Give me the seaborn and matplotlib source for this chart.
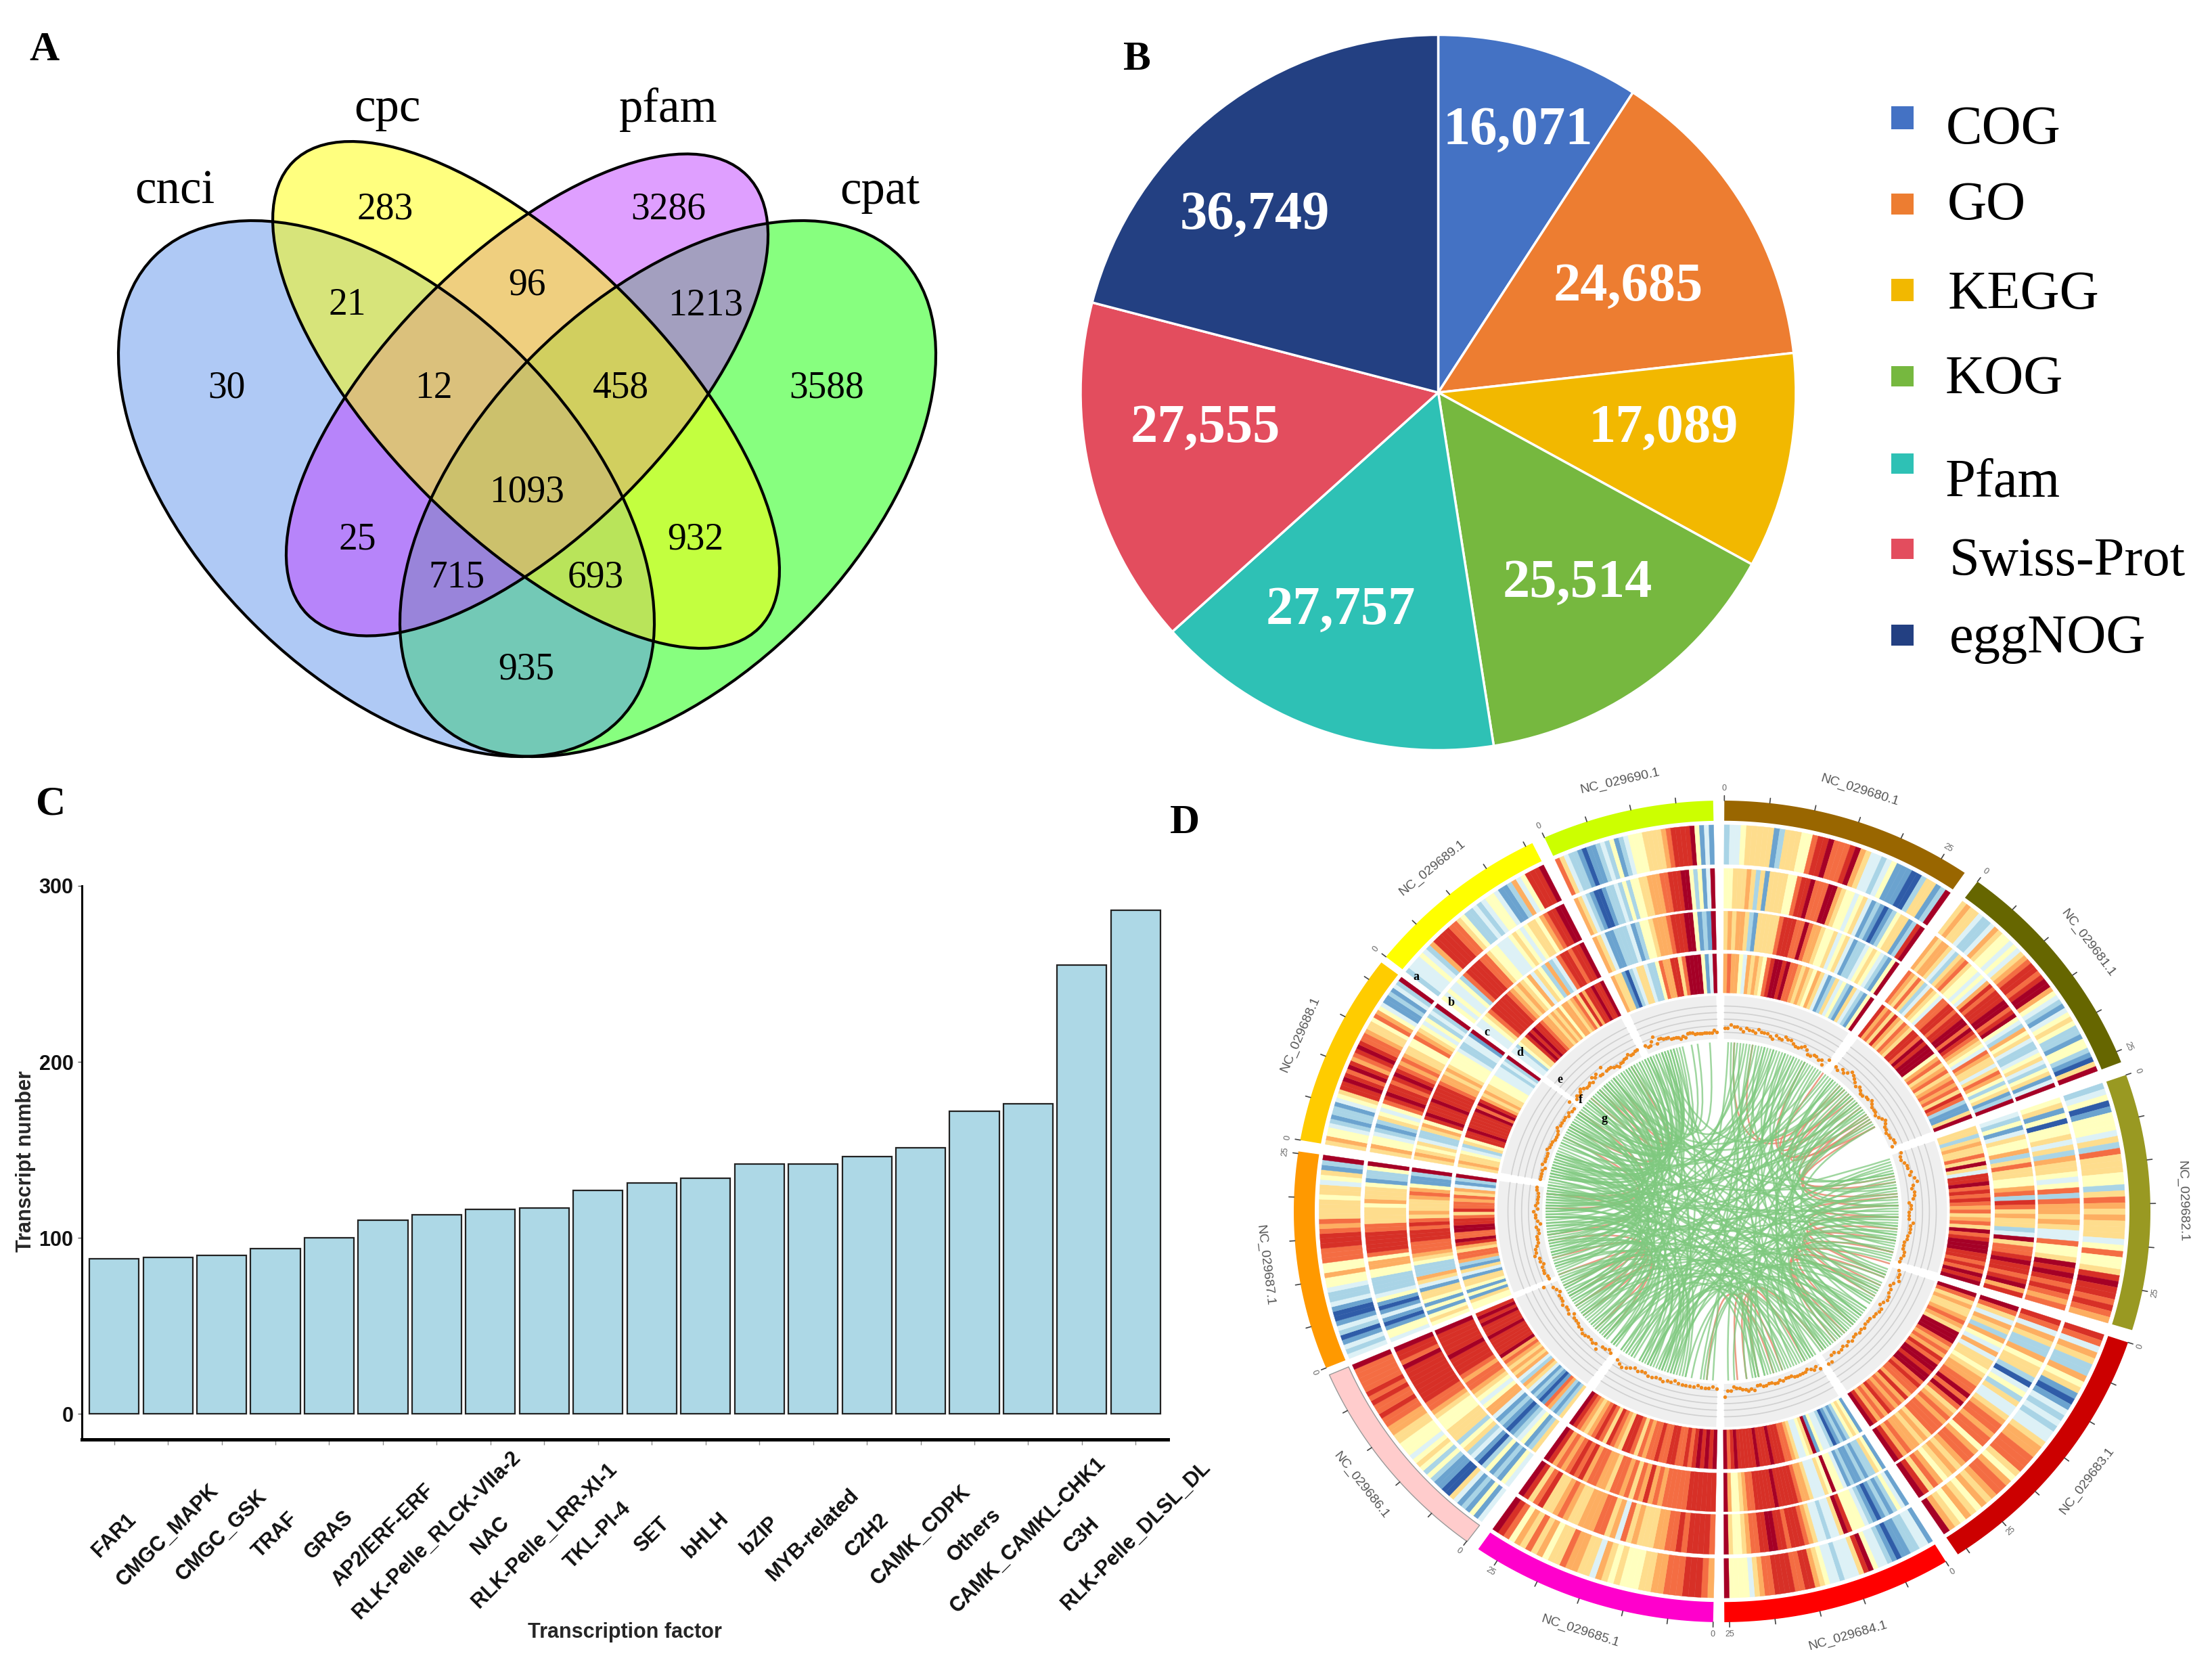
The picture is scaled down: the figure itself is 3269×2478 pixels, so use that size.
import numpy as np
import matplotlib
matplotlib.use('Agg')
import matplotlib.pyplot as plt
import seaborn as sns
from matplotlib.collections import PolyCollection
from matplotlib.patches import Ellipse, PathPatch, Rectangle
from matplotlib.path import Path

W, H = 3269, 2478
SERIF = 'Liberation Serif'
SANS = 'Liberation Sans'

# panel A
VENN_SETS = ['cnci', 'cpc', 'pfam', 'cpat']
VENN_COUNTS = ['283', '3286', '96', '21', '1213', '30', '12', '458', '3588',
               '1093', '25', '932', '715', '693', '935']

# panel B
PIE_NAMES = ['COG', 'GO', 'KEGG', 'KOG', 'Pfam', 'Swiss-Prot', 'eggNOG']
PIE_VALUES = [16071, 24685, 17089, 25514, 27757, 27555, 36749]

# panel C
TF_NAMES = ['FAR1', 'CMGC_MAPK', 'CMGC_GSK', 'TRAF', 'GRAS', 'AP2/ERF-ERF',
            'RLK-Pelle_RLCK-VIIa-2', 'NAC', 'RLK-Pelle_LRR-XI-1', 'TKL-PI-4',
            'SET', 'bHLH', 'bZIP', 'MYB-related', 'C2H2', 'CAMK_CDPK', 'Others',
            'CAMK_CAMKL-CHK1', 'C3H', 'RLK-Pelle_DLSL_DL']
TF_COUNTS = [88, 89, 90, 94, 100, 110, 113, 116, 117, 127, 131, 134, 142, 142,
             146, 151, 172, 176, 255, 286]

# panel D, sectors clockwise from the top
CHR_NAMES = ['NC_029680.1', 'NC_029681.1', 'NC_029682.1', 'NC_029683.1',
             'NC_029684.1', 'NC_029685.1', 'NC_029686.1', 'NC_029687.1',
             'NC_029688.1', 'NC_029689.1', 'NC_029690.1']
CHR_LENGTH_MB = [28.2, 26.3, 29.8, 31.2, 25.4, 27.6, 24.6, 25.4, 22.5, 21.0, 19.0]

# heat levels per sector and track (0 = dark blue ... 9 = dark red), outer track first
HEAT = [
    ['2334555551255544788977789653323411100255129',
     '4455565251555544788977799654434531210124551289',
     '5656652155555788877976654453453122345432149',
     '6766436565478998977656546531253421532149'],
    ['5655322365443435678878996432134542214421059',
     '6566532567544343687888997894326453223453245139',
     '7657523654377887889979876543765535764245129',
     '8675865765887989994675675676758721159'],
    ['2340144435275554425765655534744589887876',
     '4514044535265543472766565337445989878767',
     '3241354462575544672875655239577898878968',
     '5525655759538897878767567597899988787989'],
    ['8736522645101323233566777546776564564569',
     '8736522645520342533567767746776565467589',
     '9753652643635545667797975676777565667689',
     '9756556765999767687998997877686767867689'],
    ['1332211012334985333233456887788887765344449',
     '1342121012344489533233567888788998877654459',
     '1452212112134494533356678888898888877654469',
     '1454212102334195433567788898889888889879'],
    ['6788877766554445456355667554657564789',
     '7888878776655565736577666556765587589',
     '8888887777767686757677566776878767689',
     '9898987877887787767578856785787656789'],
    ['3141213500112424543444556677877878777779',
     '3412142013254255544456778888888897889',
     '5214321012136643456776788889888889',
     '5212671012135623656567698888898889898'],
    ['323102310013223446447778887675555455345129',
     '34410131014322224466478888877555546555412249',
     '45414145513562224567778887875655567641129',
     '4451414551351267756897799887587767563129'],
    ['564432122134588987986789877655476431121329',
     '564432125434789887898767655447654342329',
     '56545322564898889888876656544443223319',
     '565543254889888889798656554443332329'],
    ['2333432688887754223234431126348889',
     '4343342788887754433345434554678899',
     '3345788888765654635426237887889',
     '3324558989887665656466567586889889'],
    ['7532210112324123444555567888894131',
     '6532100122324244556667788899424139',
     '6531122231244566678889941219',
     '6551023553224766885799994139'],
]

# scatter track, distance from the inner edge per point
DOTS = [
    '5576654655465554354465543345422332315',
    '4354576543432233432221234322122331',
    '4334556578656653443335444332223322',
    '3445323344324433222323223232332255',
    '5343233333222323322332243433221336',
    '2122212222212232233223234543',
    '2122534334433222132232221237',
    '3344434465543332231233423222233',
    '2222132222322211123222212115',
    '3434543343545336333221223343344',
    '4335735544433332324443333333343',
]

# link ends in degrees, clockwise from the top
LINKS_GREEN = [
    (2, 205), (3, 148), (5, 255), (6, 120), (8, 300), (9, 170), (11, 232), (12, 95),
    (13, 285), (14, 156), (15, 215), (16, 330), (17, 110), (18, 262), (19, 195),
    (20, 140), (21, 310), (22, 88), (23, 243), (24, 178), (25, 125), (26, 290),
    (27, 222), (28, 77), (29, 163), (30, 270), (31, 200), (33, 135), (34, 320),
    (37, 250), (38, 100), (39, 187), (40, 295), (41, 145), (42, 228), (43, 82),
    (44, 340), (45, 210), (46, 118), (47, 275), (48, 168), (49, 92), (50, 258),
    (51, 305), (52, 198), (53, 132), (54, 238), (55, 150), (56, 282), (58, 218),
    (60, 112), (72, 265), (74, 196), (75, 235), (76, 142), (78, 288), (79, 176),
    (80, 208), (81, 318), (83, 128), (84, 252), (85, 160), (86, 300), (87, 224),
    (89, 138), (90, 273), (91, 190), (93, 245), (94, 152), (96, 325), (97, 212),
    (98, 280), (99, 122), (101, 240), (103, 172), (104, 296), (105, 202), (106, 260),
    (111, 315), (113, 226), (115, 285), (116, 185), (117, 247), (119, 268), (121, 205),
    (123, 335), (126, 233), (127, 278), (129, 192), (130, 255), (131, 302), (133, 218),
    (134, 271), (136, 242), (137, 312), (139, 200), (141, 263), (143, 292), (144, 228),
    (146, 248), (149, 275), (151, 215), (153, 322), (155, 238), (157, 283), (159, 205),
    (161, 258), (164, 298), (166, 222), (169, 268), (192, 310), (194, 278), (196, 330),
    (198, 252), (199, 290), (201, 345), (203, 265), (206, 318), (208, 240), (211, 300),
    (213, 272), (217, 328), (219, 286), (221, 256), (223, 340), (225, 306), (227, 276),
    (229, 316), (231, 296), (234, 332), (236, 266), (239, 308), (241, 284), (244, 342),
    (249, 322), (251, 294), (254, 336), (257, 304), (259, 326), (261, 281), (264, 314),
    (267, 344), (269, 334), (272, 299), (274, 320), (277, 311), (279, 341), (282, 337),
    (284, 329), (287, 324), (289, 343), (293, 333), (297, 317), (301, 338), (303, 323),
    (307, 346), (309, 331), (313, 339), (319, 350), (327, 352), (336, 356),
    (4, 128), (7, 272), (10, 183), (14, 241), (17, 306), (21, 152), (24, 287), (28, 211),
    (32, 98), (36, 262), (39, 144), (43, 316), (47, 204), (50, 131), (53, 276), (57, 166),
    (59, 244), (73, 213), (77, 322), (82, 169), (88, 256), (92, 201), (95, 283), (100, 149),
    (102, 338), (107, 219), (112, 274), (118, 197), (122, 308), (125, 236), (128, 294),
    (132, 186), (135, 251), (138, 329), (142, 224), (145, 285), (150, 207), (154, 269),
    (158, 313), (162, 232), (165, 279), (168, 344), (193, 259), (197, 301), (200, 335),
    (204, 246), (207, 288), (214, 268), (218, 311), (222, 281), (226, 342),
    (230, 263), (233, 299), (237, 325), (240, 271), (243, 318), (246, 291),
    (253, 277), (256, 332), (260, 304), (263, 327), (266, 289), (270, 340), (273, 305),
    (276, 334), (283, 315), (286, 336), (290, 321), (298, 328),
    (302, 343), (305, 319), (315, 341), (322, 347),
]
LINKS_SALMON = [
    (4, 48), (10, 44), (28, 60), (35, 50), (42, 56), (46, 58), (52, 80), (55, 88),
    (57, 84), (60, 78), (85, 92), (88, 104), (92, 112), (96, 120), (100, 116),
    (104, 132), (108, 140), (113, 138), (118, 136), (145, 172), (152, 168), (160, 175),
    (163, 185), (222, 260), (226, 236), (232, 244), (236, 248), (240, 254), (262, 276),
    (271, 296), (276, 306), (300, 316), (312, 322), (318, 329),
]

# styles and layout
VENN_FILLS = {'cnci': '#6195ED', 'cpc': '#FFFF00', 'pfam': '#C040FF', 'cpat': '#10FF00'}
VENN_SHAPES = {'cnci': ((571, 722), 485, 280, 45), 'cpc': ((777.5, 583.5), 487, 208, 45),
               'pfam': ((779, 583.5), 459, 207, -45), 'cpat': ((987, 722), 485, 280, -45)}
VENN_FILL_ORDER = ['cpat', 'cnci', 'pfam', 'cpc']
PIE_COLORS = ['#4472C4', '#ED7D31', '#F2B800', '#76B83F', '#2EC1B5', '#E34D5E', '#234082']
RING_COLORS = ['#996600', '#666600', '#999922', '#CC0000', '#FF0000', '#FF00CC',
               '#FFCCCC', '#FF9900', '#FFCC00', '#FFFF00', '#CCFF00']
HEAT_COLORS = sns.color_palette(['#2F5CA8', '#6BA3CF', '#A9D4E6', '#DDF1F6', '#FFFFBF',
                                 '#FEDD8D', '#FDAE61', '#F46D43', '#D73027', '#A50026'])
SECTOR_SPANS = [(0.3, 34.5), (36.6, 68.7), (70.6, 106.8), (108.6, 146.6), (148.5, 179.7),
                (181.2, 214.7), (216.6, 246.6), (247.6, 278.4), (280.0, 307.3),
                (308.3, 333.7), (335.5, 358.8)]
TRACK_RADII = [(0.845, 0.941), (0.738, 0.835), (0.637, 0.731), (0.532, 0.627)]
DEG_PER_MB = 1.22
CX, CY, RX, RY = 2545, 1790, 633, 607

sns.set_theme(style='white')
plt.rcParams['font.family'] = [SANS, 'DejaVu Sans']


def to_xy(theta, r):
    t = np.radians(theta)
    return CX + RX * r * np.sin(t), CY - RY * r * np.cos(t)


def arc_poly(t0, t1, r0, r1, n=6):
    ts = np.linspace(t0, t1, n)
    x0, y0 = to_xy(ts, r1)
    x1, y1 = to_xy(ts[::-1], r0)
    return np.column_stack([np.r_[x0, x1], np.r_[y0, y1]])


def px_axes(fig, left, top, right, bottom):
    return fig.add_axes([left / W, 1 - bottom / H, (right - left) / W, (bottom - top) / H])


fig = plt.figure(figsize=(W / 100, H / 100), dpi=100, facecolor='white')

# C: bar chart
ax_bar = px_axes(fig, 121, 1309, 1726, 2127)
sns.barplot(x=TF_NAMES, y=TF_COUNTS, color='#ADD8E6', saturation=1, width=0.92,
            edgecolor='#222222', linewidth=1.6, ax=ax_bar)
ax_bar.set_xlim(-0.6, 19.6)
ax_bar.set_ylim(-14.6, 300)
ax_bar.set_yticks([0, 100, 200, 300])
ax_bar.set_xticks(range(len(TF_NAMES)))
ax_bar.set_xticklabels(TF_NAMES, rotation=45, ha='center', va='center', fontsize=22,
                       fontweight='bold', family=SANS, color='#111111')
ax_bar.tick_params(axis='x', length=6, width=1, color='#888888', pad=96, bottom=True)
ax_bar.tick_params(axis='y', length=4, width=1, color='#555555', pad=5, left=True)
for lab in ax_bar.get_yticklabels():
    lab.set_fontsize(22)
    lab.set_fontweight('bold')
    lab.set_color('#111111')
for side in ['top', 'right']:
    ax_bar.spines[side].set_visible(False)
ax_bar.spines['left'].set_linewidth(2.2)
ax_bar.spines['bottom'].set_linewidth(3.6)
ax_bar.spines['left'].set_color('black')
ax_bar.spines['bottom'].set_color('black')
ax_bar.set_xlabel('Transcription factor', fontsize=22, fontweight='bold', va='center')
ax_bar.set_ylabel('Transcript number', fontsize=22, fontweight='bold', va='center')
ax_bar.xaxis.set_label_coords(0.5, -0.348)
ax_bar.yaxis.set_label_coords(-0.052, 0.502)

# B: pie
ax_pie = px_axes(fig, 1597, 51, 2654, 1109)
ax_pie.pie(PIE_VALUES, colors=PIE_COLORS, startangle=90, counterclock=False, radius=1,
           wedgeprops={'edgecolor': 'white', 'linewidth': 2.5})
ax_pie.set_xlim(-1, 1)
ax_pie.set_ylim(-1, 1)

# everything else is placed in picture pixels
ov = fig.add_axes([0, 0, 1, 1], facecolor='none')
ov.set_xlim(0, W)
ov.set_ylim(H, 0)
ov.axis('off')

# pie labels and legend
PIE_LABEL_XY = [(2243, 193), (2406, 424), (2458, 633), (2331, 862), (1981, 902),
                (1781, 633), (1854, 318)]
for val, (x, y) in zip(PIE_VALUES, PIE_LABEL_XY):
    ov.text(x, y, f'{val:,}', color='white', fontsize=58, fontweight='bold', family=SERIF,
            ha='center', va='center')
LEGEND_BOX_Y = [(157, 191), (286, 317), (412, 445), (541, 571), (670, 700), (796, 826), (923, 954)]
LEGEND_TEXT_XY = [(2876, 212), (2878, 324), (2879, 456), (2875, 581), (2875, 734), (2881, 850), (2881, 964)]
for name, col, (y0, y1), (x, y) in zip(PIE_NAMES, PIE_COLORS, LEGEND_BOX_Y, LEGEND_TEXT_XY):
    ov.add_patch(Rectangle((2795, y0), 33, y1 - y0, facecolor=col, edgecolor='none'))
    ov.text(x, y, name, fontsize=58, family=SERIF, color='black', ha='left', va='baseline')

# A: venn, filled in this order so the overlaps mix the way they do in the figure
for name in VENN_FILL_ORDER:
    c, a, b, ang = VENN_SHAPES[name]
    ov.add_patch(Ellipse(c, 2 * a, 2 * b, angle=ang, facecolor=VENN_FILLS[name],
                         edgecolor='none', alpha=0.5))
for name in VENN_SETS:
    c, a, b, ang = VENN_SHAPES[name]
    ov.add_patch(Ellipse(c, 2 * a, 2 * b, angle=ang, facecolor='none', edgecolor='black', linewidth=3))
VENN_NAME_XY = [(258, 283), (572, 162), (988, 162), (1300, 283)]
for name, (x, y) in zip(VENN_SETS, VENN_NAME_XY):
    ov.text(x, y, name, fontsize=51, family=SERIF, color='black', ha='center', va='center')
VENN_COUNT_XY = [(569, 310), (988, 310), (779, 422), (513, 451), (1043, 451), (335, 574),
                 (641, 574), (917, 574), (1222, 574), (779, 728), (528, 798), (1028, 798),
                 (675, 853), (880, 853), (778, 990)]
for num, (x, y) in zip(VENN_COUNTS, VENN_COUNT_XY):
    ov.text(x, y, num, fontsize=40, family=SERIF, color='black', ha='center', va='center')

# panel letters
PANEL_XY = {'A': (65, 74), 'B': (1680, 88), 'C': (75, 1188), 'D': (1751, 1216)}
for letter, (x, y) in PANEL_XY.items():
    ov.text(x, y, letter, fontsize=44, fontweight='bold', family=SERIF, color='black',
            ha='center', va='center')

# D: outer ring, ticks and names
for i, (t0, t1) in enumerate(SECTOR_SPANS):
    edge = '#999999' if RING_COLORS[i] == '#FFCCCC' else 'none'
    ov.add_collection(PolyCollection([arc_poly(t0, t1, 0.951, 1.0, 40)], facecolors=RING_COLORS[i],
                                     edgecolors=edge, linewidths=1))
    for mb in np.arange(0, CHR_LENGTH_MB[i], 5):
        th = t0 + mb * DEG_PER_MB
        xa, ya = to_xy(th, 1.0)
        xb, yb = to_xy(th, 1.012)
        ov.plot([xa, xb], [ya, yb], color='#444444', lw=1.2)
        if mb in (0, 25):
            x, y = to_xy(th, 1.03)
            ov.text(x, y, f'{int(mb)}', fontsize=9, color='#666666', ha='center', va='center',
                    rotation=-th if not 90 < th < 270 else 180 - th)
    mid = (t0 + t1) / 2
    x, y = to_xy(mid, 1.075)
    rot = 180 - mid if 90 < mid < 270 else -mid
    ov.text(x, y, CHR_NAMES[i], fontsize=14, color='#555555', ha='center', va='center', rotation=rot)

# D: heat tracks
for i, (t0, t1) in enumerate(SECTOR_SPANS):
    for digits, (r0, r1) in zip(HEAT[i], TRACK_RADII):
        levels = [int(d) for d in digits]
        edges = np.linspace(t0, t1, len(levels) + 1)
        polys = [arc_poly(edges[j], edges[j + 1], r0, r1, 3) for j in range(len(levels))]
        cols = [HEAT_COLORS[lv] for lv in levels]
        ov.add_collection(PolyCollection(polys, facecolors=cols, edgecolors=cols, linewidths=0.3))

# D: grey band of the scatter track
for t0, t1 in SECTOR_SPANS:
    ov.add_collection(PolyCollection([arc_poly(t0 + 0.3, t1 - 0.3, 0.42, 0.525, 40)],
                                     facecolors='#EFEFEF', edgecolors='none'))
    for r in [0.436, 0.452, 0.468, 0.484, 0.50]:
        ts = np.linspace(t0 + 0.3, t1 - 0.3, 40)
        x, y = to_xy(ts, r)
        ov.plot(x, y, color='#D0D0D0', lw=1.2)

# D: links, drawn through the middle of the circle
for pairs, col, alpha in [(LINKS_SALMON, '#E98A70', 0.85), (LINKS_GREEN, '#7FC97F', 0.75)]:
    for a, b in pairs:
        p0 = to_xy(a, 0.412)
        p1 = to_xy(b, 0.412)
        path = Path([p0, (CX, CY), p1], [Path.MOVETO, Path.CURVE3, Path.CURVE3])
        ov.add_patch(PathPatch(path, facecolor='none', edgecolor=col, linewidth=1.8, alpha=alpha))

# D: scatter dots
for i, (t0, t1) in enumerate(SECTOR_SPANS):
    offs = [int(d) for d in DOTS[i]]
    ths = np.linspace(t0 + 0.5, t1 - 0.5, len(offs))
    x, y = to_xy(ths, 0.422 + np.array(offs) * 0.0048)
    ov.scatter(x, y, s=15, color='#F08A1D', linewidths=0, zorder=5)

# D: track letters
TRACK_LETTERS = ['a', 'b', 'c', 'd', 'e', 'f', 'g']
TRACK_LETTER_XY = [(2093, 1444), (2145, 1481), (2197, 1525), (2246, 1556), (2305, 1595),
                   (2336, 1626), (2371, 1654)]
for letter, (x, y) in zip(TRACK_LETTERS, TRACK_LETTER_XY):
    ov.text(x, y, letter, fontsize=13, fontweight='bold', family=SERIF, color='black',
            ha='center', va='center', zorder=6)

fig.savefig('out.png', dpi=100, facecolor='white')
plt.close(fig)
